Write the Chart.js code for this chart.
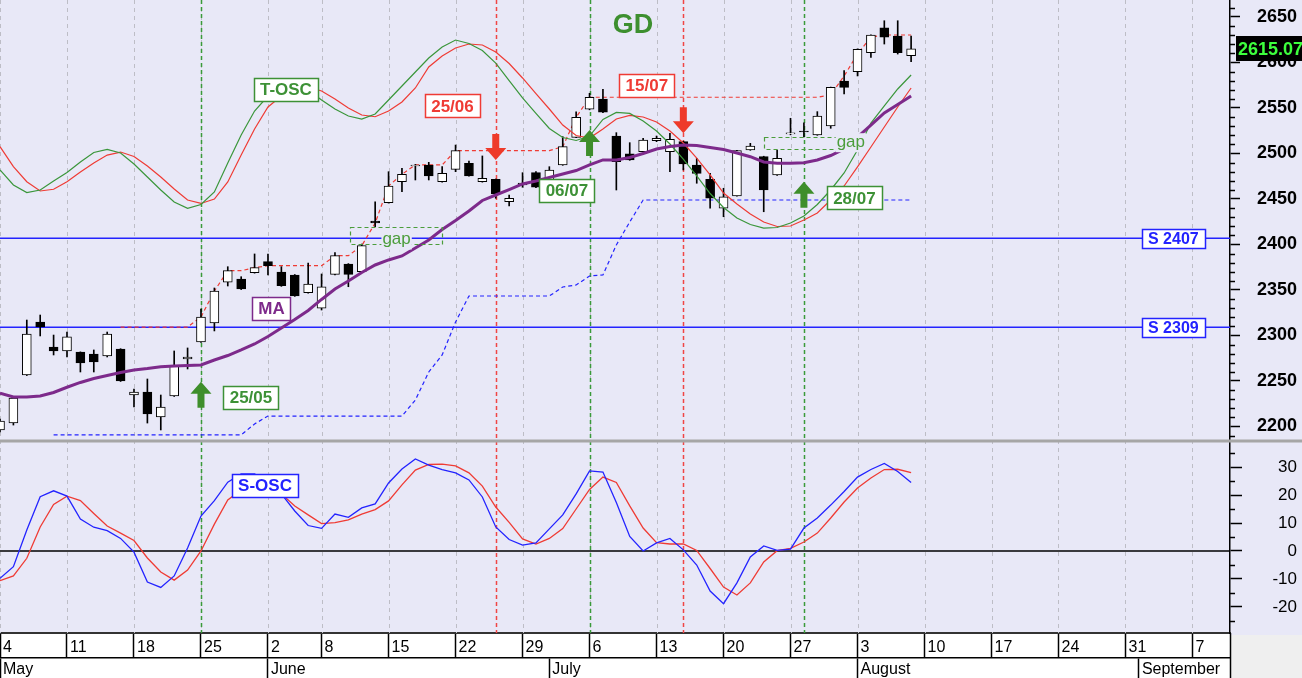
<!DOCTYPE html>
<html><head><meta charset="utf-8">
<script src="https://cdn.jsdelivr.net/npm/chart.js@4.4.1/dist/chart.umd.min.js"></script>
<style>html,body{margin:0;padding:0;background:#e8e8f7;}canvas{display:block;}</style>
</head><body><canvas id="c" width="1302" height="678"></canvas>
<script>
// ---------- DATA (trading-day index 0 = 4 May) ----------
const opens  = [2196.2,2203.8,2256.6,2314.8,2287.4,2283.0,2281.9,2279.7,2277.5,2285.2,
                2234.6,2237.9,2210.4,2233.5,2274.2,2292.9,2313.7,2358.5,2362.1,2369.0,
                2381.1,2369.8,2366.5,2347.0,2329.9,2367.2,2378.6,2370.1,2425.8,2446.0,
                2469.0,2486.3,2487.4,2469.0,2482.6,2489.2,2469.0,2471.6,2447.0,2465.4,
                2478.9,2470.9,2487.4,2517.8,2548.6,2559.9,2519.2,2499.5,2502.0,2514.1,
                2502.0,2513.0,2487.4,2471.6,2439.8,2453.3,2503.8,2496.5,2476.4,2521.5,
                2524.7,2520.3,2530.2,2579.7,2589.9,2610.8,2638.2,2629.1,2607.5];
const highs  = [2208.2,2232.4,2317.0,2322.5,2300.5,2303.8,2282.0,2284.1,2303.8,2285.5,
                2241.2,2252.2,2234.6,2283.0,2286.3,2329.1,2352.2,2375.6,2364.6,2389.6,
                2389.6,2375.6,2367.0,2379.7,2367.6,2391.0,2379.0,2400.5,2447.0,2480.0,
                2483.7,2488.0,2490.3,2485.5,2509.3,2491.8,2497.3,2472.0,2454.4,2478.9,
                2480.0,2485.5,2518.5,2545.9,2566.2,2570.6,2522.9,2511.9,2516.7,2519.2,
                2522.2,2513.5,2494.7,2478.2,2461.8,2503.5,2511.2,2497.0,2503.8,2538.7,
                2533.8,2546.0,2573.0,2591.0,2615.0,2630.5,2645.9,2645.9,2629.1];
const lows   = [2194.0,2201.6,2256.0,2299.5,2278.6,2276.4,2259.9,2259.9,2276.4,2249.5,
                2221.4,2203.8,2196.2,2233.0,2263.2,2292.5,2305.0,2354.4,2350.5,2368.5,
                2366.5,2354.0,2343.0,2346.5,2328.0,2366.5,2353.6,2369.5,2419.6,2445.5,
                2458.0,2470.9,2470.9,2468.5,2480.0,2475.0,2468.5,2450.8,2442.3,2462.9,
                2462.5,2470.5,2487.0,2517.5,2548.0,2545.0,2459.9,2492.5,2501.5,2513.0,
                2480.0,2481.9,2467.3,2439.8,2430.5,2453.0,2503.5,2436.0,2476.0,2520.5,
                2518.1,2520.0,2527.7,2565.4,2585.2,2605.7,2620.3,2609.3,2600.9];
const closes = [2206.0,2231.3,2301.6,2309.3,2283.0,2298.4,2269.8,2270.9,2301.6,2250.0,
                2237.9,2213.7,2221.4,2266.5,2276.4,2320.3,2348.9,2371.2,2351.1,2374.5,
                2376.7,2354.7,2343.4,2356.6,2353.6,2387.7,2367.2,2398.7,2423.6,2464.3,
                2477.1,2487.4,2475.3,2478.2,2503.1,2475.3,2472.7,2455.5,2450.8,2467.6,
                2462.9,2481.9,2507.5,2539.8,2561.8,2545.3,2491.0,2492.9,2514.8,2516.7,
                2515.6,2488.5,2478.2,2450.8,2452.5,2503.1,2508.2,2459.9,2494.7,2522.0,
                2523.6,2541.2,2572.7,2572.7,2614.5,2630.2,2627.7,2610.8,2615.07];
const maValues = [2236.5,2232.4,2232.4,2233.5,2237.4,2243.1,2248.4,2252.8,2256.1,2259.4,
                2262.1,2263.7,2265.7,2266.5,2267.0,2267.6,2273.1,2278.0,2284.1,2290.7,
                2298.9,2308.2,2317.6,2327.5,2339.6,2351.1,2359.9,2369.2,2377.5,2383.0,
                2387.4,2396.2,2404.9,2416.5,2426.4,2436.8,2448.4,2454.4,2460.4,2466.5,
                2469.8,2473.6,2477.5,2481.3,2487.4,2492.9,2492.9,2495.6,2500.0,2504.9,
                2507.7,2509.3,2508.8,2506.6,2504.4,2500.5,2496.5,2490.7,2489.2,2489.2,
                2489.9,2492.9,2497.8,2504.9,2518.1,2531.3,2544.5,2553.8,2563.2];
const tOscFast = [2481.9,2465.4,2457.1,2459.9,2469.8,2479.1,2490.7,2501.1,2504.6,2500.5,
                2488.5,2474.2,2459.9,2446.7,2439.8,2444.0,2457.7,2489.6,2520.3,2546.7,
                2563.2,2572.0,2574.2,2569.8,2558.8,2548.9,2541.2,2537.9,2543.4,2558.8,
                2574.2,2589.6,2604.9,2617.0,2624.7,2620.9,2613.2,2599.4,2580.2,2561.0,
                2544.0,2527.5,2517.6,2514.3,2519.2,2537.4,2545.1,2544.0,2535.7,2524.7,
                2510.4,2493.9,2475.3,2456.0,2440.7,2429.1,2422.0,2418.1,2418.7,2423.6,
                2431.3,2444.0,2459.9,2478.6,2503.8,2533.5,2552.2,2570.9,2586.3];
const tOscSlow = [2507.5,2485.5,2469.0,2458.8,2460.7,2469.0,2479.7,2489.6,2498.3,2501.6,
                2496.7,2486.3,2474.2,2461.0,2448.9,2445.1,2450.0,2468.7,2498.3,2526.9,
                2551.1,2563.2,2572.0,2573.1,2568.7,2559.9,2550.0,2542.3,2540.4,2546.7,
                2556.6,2572.0,2595.1,2607.2,2615.9,2620.3,2619.2,2611.5,2598.9,2583.0,
                2565.9,2548.9,2531.3,2519.8,2517.0,2526.9,2537.9,2541.8,2540.1,2534.6,
                2524.7,2511.5,2495.0,2476.4,2456.6,2444.5,2433.5,2424.7,2419.8,2420.3,
                2426.9,2434.6,2448.9,2464.3,2485.2,2507.1,2529.1,2551.1,2572.0];
const resistance = [null,null,null,null,null,null,null,null,null,2309.3,
                2309.3,2309.3,2309.3,2309.3,2309.3,2320.3,2348.9,2371.2,2371.2,2374.5,
                2376.7,2376.7,2376.7,2376.7,2376.7,2387.7,2387.7,2398.7,2423.6,2464.3,
                2477.1,2487.4,2487.4,2487.4,2503.1,2503.1,2503.1,2503.1,2503.1,2503.1,
                2503.1,2503.1,2507.5,2539.8,2561.8,2561.8,2561.8,2561.8,2561.8,2561.8,
                2561.8,2561.8,2561.8,2561.8,2561.8,2561.8,2561.8,2561.8,2561.8,2561.8,
                2561.8,2561.8,2564.3,2585.2,2609.3,2628.0,2630.2,2630.2,2630.2];
const trailSupport = [null,null,null,null,2190.7,2190.7,2190.7,2190.7,2190.7,2190.7,
                2190.7,2190.7,2190.7,2190.7,2190.7,2190.7,2190.7,2190.7,2190.7,2202.8,
                2211.5,2211.5,2211.5,2211.5,2211.5,2211.5,2211.5,2211.5,2211.5,2211.5,
                2211.5,2229.1,2259.9,2278.6,2314.8,2343.4,2343.4,2343.4,2343.4,2343.4,
                2343.4,2343.4,2353.3,2355.5,2365.4,2366.5,2399.5,2424.7,2448.9,2448.9,
                2448.9,2448.9,2448.9,2448.9,2448.9,2448.9,2448.9,2448.9,2448.9,2448.9,
                2448.9,2448.9,2448.9,2448.9,2448.9,2448.9,2448.9,2448.9,2448.9];
const sOscFast = [-9.75,-5.6,7.5,19.4,21.5,19.6,11.4,8.5,7.25,4.5,
                -0.4,-11.1,-13.0,-8.9,1.1,12.5,18.0,24.6,27.5,27.5,
                24.6,20.4,14.3,9.1,8.1,13.2,12.0,15.4,16.8,24.3,
                29.3,32.9,30.7,29.1,27.9,25.4,19.3,8.6,4.1,2.1,
                2.9,7.9,12.9,20.4,28.6,28.2,17.3,5.2,0.0,2.9,
                4.5,0.4,-5.0,-14.3,-18.8,-11.4,-2.1,1.8,0.2,0.7,
                8.2,11.8,16.4,21.25,26.4,29.1,31.25,28.4,24.5];
const sOscSlow = [-10.6,-8.9,-2.6,8.6,16.6,19.6,18.0,13.4,8.9,6.4,
                3.75,-2.5,-7.5,-10.4,-6.8,0.0,9.6,18.2,21.8,22.5,
                21.8,20.4,16.1,12.9,9.8,10.1,11.1,13.2,14.8,17.9,
                23.6,28.9,30.9,31.0,30.4,27.9,23.2,15.7,10.2,4.3,
                2.5,4.5,8.0,15.0,22.0,26.4,24.5,16.1,8.2,3.0,
                2.5,2.5,0.2,-6.25,-12.9,-15.7,-11.4,-3.9,0.1,0.96,
                3.2,6.4,11.8,17.5,22.5,26.1,29.1,29.2,28.0];
const supportLevels = [2407, 2309];
const supportLabels = ['S 2407', 'S 2309'];
const buyDays = [15, 44, 60];
const buyLabels = ['25/05', '06/07', '28/07'];
const buyArrowTips = [2249.2, 2525.8, 2469.0];
const sellDays = [37, 51];
const sellLabels = ['25/06', '15/07'];
const sellArrowTips = [2492.9, 2522.2];
const gapFrom = [26.1, 57.0];
const gapTo = [33.0, 62.5];
const gapLow = [2400.5, 2505.7];
const gapHigh = [2419.6, 2518.5];
const weekTicks = [0,5,10,15,20,24,29,34,39,44,49,54,59,64,69,74,79,84,89];
const weekLabels = ['4','11','18','25','2','8','15','22','29','6','13','20','27','3','10','17','24','31','7'];
const monthTicks = [0,20,41,64,85];
const monthLabels = ['May','June','July','August','September'];
const priceTicks = [2200,2250,2300,2350,2400,2450,2500,2550,2600,2650];
const oscTicks = [-20,-10,0,10,20,30];
const lastPrice = closes[closes.length - 1];

// ---------- annotation layout (data-space anchors) ----------
const GREEN = '#3d9136', RED = '#ef3b34', BLUE = '#2323ff', PURPLE = '#7d2a8b';
const boxLabels = [
  {text:'T-OSC', x:21.34, y:2570.3, c:GREEN, axis:'y'},
  {text:sellLabels[0], x:33.77, y:2552.2, c:RED, axis:'y'},
  {text:sellLabels[1], x:48.28, y:2574.7, c:RED, axis:'y'},
  {text:buyLabels[1], x:42.31, y:2459.3, c:GREEN, axis:'y'},
  {text:buyLabels[0], x:18.73, y:2231.9, c:GREEN, axis:'y'},
  {text:buyLabels[2], x:63.77, y:2451.1, c:GREEN, axis:'y'},
  {text:'MA', x:20.26, y:2329.5, c:PURPLE, axis:'y'},
  {text:'S-OSC', x:19.78, y:23.4, c:BLUE, axis:'y2'}
];
const gapTextPos = [{x:29.6, y:2405.5}, {x:63.5, y:2512.4}];

const FONT = "'Liberation Sans', Arial, sans-serif";
Chart.defaults.font.family = FONT;

const idx = opens.map((_, i) => i);
const pts = arr => arr.map((v, i) => ({x: i, y: v}));
const XMAX = 91.8;

function lineDs(data, color, width, axis, order, dash) {
  return {type:'line', data, borderColor:color, borderWidth:width, pointRadius:0,
          tension:0, yAxisID:axis, xAxisID:'x', order, borderDash: dash || [], spanGaps:false, fill:false};
}

const datasets = [];
supportLevels.forEach(v => datasets.push(lineDs([{x:0,y:v},{x:XMAX,y:v}], BLUE, 1.5, 'y', 40)));
datasets.push(lineDs([{x:0,y:0},{x:XMAX,y:0}], '#000', 1.5, 'y2', 40));
datasets.push(lineDs(pts(resistance), RED, 1.2, 'y', 30, [4,3]));
datasets.push(lineDs(pts(trailSupport), BLUE, 1.2, 'y', 30, [4,3]));
datasets.push({type:'bar', xAxisID:'x', yAxisID:'y', order:21, grouped:false, barThickness:1,
  data: idx.map(i => ({x:i, y:[lows[i], highs[i]]})), backgroundColor:'#000', borderWidth:0});
datasets.push({type:'bar', xAxisID:'x', yAxisID:'y', order:20, grouped:false, barThickness:9,
  minBarLength:1, borderSkipped:false, borderWidth:1, borderColor:'#000',
  data: idx.map(i => ({x:i, y:[opens[i], closes[i]]})),
  backgroundColor: idx.map(i => closes[i] >= opens[i] ? '#ffffff' : '#000000')});
datasets.push(lineDs(pts(tOscSlow), RED, 1.2, 'y', 10));
datasets.push(lineDs(pts(tOscFast), '#3a963a', 1.2, 'y', 9));
datasets.push(lineDs(pts(maValues), PURPLE, 3, 'y', 5));
datasets.push(lineDs(pts(sOscSlow), RED, 1.3, 'y2', 8));
datasets.push(lineDs(pts(sOscFast), BLUE, 1.3, 'y2', 7));

function drawBox(ctx, text, cx, cy, color, font, h, pad) {
  ctx.font = font;
  const w = Math.round(ctx.measureText(text).width + pad * 2);
  const x0 = Math.round(cx - w / 2) + 0.5, y0 = Math.round(cy - h / 2) + 0.5;
  ctx.fillStyle = '#fff'; ctx.fillRect(x0, y0, w, h);
  ctx.strokeStyle = color; ctx.lineWidth = 1.5; ctx.setLineDash([]); ctx.strokeRect(x0, y0, w, h);
  ctx.fillStyle = color; ctx.textAlign = 'center'; ctx.textBaseline = 'middle';
  ctx.fillText(text, cx, cy + 1);
}
function drawArrow(ctx, x, yTip, dir, color) {
  const L = 26, hh = 12, hw = 10.5, sw = 3.5, s = dir === 'up' ? 1 : -1;
  ctx.fillStyle = color;
  ctx.beginPath();
  ctx.moveTo(x, yTip);
  ctx.lineTo(x + hw, yTip + s * hh);
  ctx.lineTo(x + sw, yTip + s * hh);
  ctx.lineTo(x + sw, yTip + s * L);
  ctx.lineTo(x - sw, yTip + s * L);
  ctx.lineTo(x - sw, yTip + s * hh);
  ctx.lineTo(x - hw, yTip + s * hh);
  ctx.closePath(); ctx.fill();
}
const noPad = s => { s.paddingTop = 0; s.paddingBottom = 0; s.paddingLeft = 0; s.paddingRight = 0; };

const annot = {
  id: 'annot',
  beforeDraw(chart) {
    const {ctx, width, height, chartArea: ca} = chart;
    ctx.save();
    ctx.fillStyle = '#e8e8f7'; ctx.fillRect(0, 0, width, height);
    ctx.fillStyle = '#ffffff'; ctx.fillRect(0, ca.bottom, ca.right, height - ca.bottom);
    ctx.restore();
  },
  beforeDatasetsDraw(chart) {
    const {ctx, chartArea: ca, scales} = chart;
    const xs = scales.x;
    ctx.save();
    ctx.lineWidth = 1; ctx.strokeStyle = '#bdbdc6'; ctx.setLineDash([4,4]);
    weekTicks.forEach(v => {
      const x = Math.round(xs.getPixelForValue(v)) + 0.5;
      ctx.beginPath(); ctx.moveTo(x, ca.top); ctx.lineTo(x, ca.bottom); ctx.stroke();
    });
    ctx.lineWidth = 1.5; ctx.setLineDash([4,3]);
    buyDays.forEach(d => {
      const x = Math.round(xs.getPixelForValue(d)) + 0.5;
      ctx.strokeStyle = '#3a9a3a';
      ctx.beginPath(); ctx.moveTo(x, ca.top); ctx.lineTo(x, ca.bottom); ctx.stroke();
    });
    sellDays.forEach(d => {
      const x = Math.round(xs.getPixelForValue(d)) + 0.5;
      ctx.strokeStyle = '#f04545';
      ctx.beginPath(); ctx.moveTo(x, ca.top); ctx.lineTo(x, ca.bottom); ctx.stroke();
    });
    ctx.setLineDash([]);
    const yb = scales.y.bottom;
    ctx.fillStyle = '#a6a6a6'; ctx.fillRect(0, yb - 1.5, chart.width, 3);
    ctx.restore();
  },
  afterDatasetsDraw(chart) {
    const {ctx, scales} = chart;
    const xs = scales.x, ys = scales.y;
    ctx.save();
    ctx.strokeStyle = '#4b9d3b'; ctx.lineWidth = 1.2; ctx.setLineDash([4,3]);
    gapFrom.forEach((g, k) => {
      const x0 = xs.getPixelForValue(gapFrom[k]), x1 = xs.getPixelForValue(gapTo[k]);
      const y0 = ys.getPixelForValue(gapHigh[k]), y1 = ys.getPixelForValue(gapLow[k]);
      ctx.strokeRect(Math.round(x0) + 0.5, Math.round(y0) + 0.5, Math.round(x1 - x0), Math.round(y1 - y0));
    });
    ctx.setLineDash([]);
    ctx.font = '17px ' + FONT; ctx.textAlign = 'center'; ctx.textBaseline = 'middle';
    gapTextPos.forEach(p => {
      const cx = xs.getPixelForValue(p.x), cy = ys.getPixelForValue(p.y);
      const w = ctx.measureText('gap').width + 2;
      ctx.fillStyle = '#e8e8f7'; ctx.fillRect(cx - w / 2, cy - 9, w, 19);
      ctx.fillStyle = '#4b9d3b'; ctx.fillText('gap', cx, cy);
    });
    buyDays.forEach((d, k) => drawArrow(ctx, xs.getPixelForValue(d), ys.getPixelForValue(buyArrowTips[k]), 'up', '#3e8e2b'));
    sellDays.forEach((d, k) => drawArrow(ctx, xs.getPixelForValue(d), ys.getPixelForValue(sellArrowTips[k]), 'down', '#ee3a2a'));
    boxLabels.forEach(b => {
      const s = scales[b.axis];
      drawBox(ctx, b.text, xs.getPixelForValue(b.x), s.getPixelForValue(b.y), b.c, 'bold 17px ' + FONT, 23, 6);
    });
    supportLevels.forEach((v, k) => {
      drawBox(ctx, supportLabels[k], xs.getPixelForValue(87.57), ys.getPixelForValue(v), BLUE, 'bold 16px ' + FONT, 19, 6);
    });
    ctx.font = 'bold 27px ' + FONT; ctx.fillStyle = '#3d8f2f'; ctx.textAlign = 'center'; ctx.textBaseline = 'middle';
    ctx.fillText('GD', xs.getPixelForValue(47.24), ys.getPixelForValue(2640.2));
    ctx.restore();
  },
  afterDraw(chart) {
    const {ctx, width, height, chartArea: ca, scales} = chart;
    ctx.save();
    ctx.strokeStyle = '#000'; ctx.lineWidth = 1.5;
    const xr = Math.round(ca.right);
    for (let v = 2190; v <= 2660; v += 10) {
      if (v % 50 === 0) continue;
      const y = Math.round(scales.y.getPixelForValue(v)) + 0.5;
      ctx.beginPath(); ctx.moveTo(xr, y); ctx.lineTo(xr + 5, y); ctx.stroke();
    }
    for (let v = -25; v <= 35; v += 5) {
      if (v % 10 === 0) continue;
      const y = Math.round(scales.y2.getPixelForValue(v)) + 0.5;
      ctx.beginPath(); ctx.moveTo(xr, y); ctx.lineTo(xr + 5, y); ctx.stroke();
    }
    ctx.fillStyle = '#efefef'; ctx.fillRect(xr + 1, ca.bottom + 2, width - xr, height - ca.bottom);
    ctx.strokeStyle = '#000'; ctx.lineWidth = 1.5;
    ctx.beginPath(); ctx.moveTo(xr + 0.5, ca.bottom); ctx.lineTo(xr + 0.5, height); ctx.stroke();
    const yp = scales.y.getPixelForValue(lastPrice);
    ctx.fillStyle = '#000'; ctx.fillRect(xr + 6, Math.round(yp) - 13, width - xr - 6, 25);
    ctx.fillStyle = '#3dff3d'; ctx.font = 'bold 18px ' + FONT; ctx.textAlign = 'left'; ctx.textBaseline = 'middle';
    ctx.fillText(lastPrice.toFixed(2), xr + 8, yp + 1);
    ctx.restore();
  }
};

new Chart(document.getElementById('c'), {
  type: 'line',
  data: { datasets },
  options: {
    responsive: false, animation: false, devicePixelRatio: 1,
    layout: { padding: {left:0, top:0, bottom:0, right:5}, autoPadding: false },
    events: [],
    plugins: { legend: {display:false}, tooltip: {enabled:false} },
    scales: {
      x: {
        type:'linear', position:'bottom', min:0, max:XMAX, weight:0, offset:false,
        afterBuildTicks: s => { s.ticks = weekTicks.map(v => ({value:v})); },
        afterFit: s => { s.height = 25; noPad(s); },
        grid: { display:true, offset:false, drawOnChartArea:false, drawTicks:true, tickLength:25, tickColor:'#000', tickWidth:1.5 },
        border: { display:true, color:'#333', width:2 },
        ticks: { autoSkip:false, maxRotation:0, minRotation:0, align:'start', labelOffset:3, padding:-20,
                 color:'#000', font:{size:16}, callback:(v, i) => weekLabels[i] }
      },
      xm: {
        type:'linear', position:'bottom', min:0, max:XMAX, weight:1, offset:false,
        afterBuildTicks: s => { s.ticks = monthTicks.map(v => ({value:v})); },
        afterFit: s => { s.height = 20; noPad(s); },
        grid: { display:true, offset:false, drawOnChartArea:false, drawTicks:true, tickLength:20, tickColor:'#000', tickWidth:1.5 },
        border: { display:true, color:'#000', width:1.5 },
        ticks: { autoSkip:false, maxRotation:0, minRotation:0, align:'start', labelOffset:3, padding:-18,
                 color:'#000', font:{size:16}, callback:(v, i) => monthLabels[i] }
      },
      y: {
        type:'linear', position:'right', stack:'v', stackWeight:441, min:2184.06, max:2668.68,
        afterBuildTicks: s => { s.ticks = priceTicks.map(v => ({value:v})); },
        afterFit: s => { s.width = 67; noPad(s); },
        grid: { drawOnChartArea:false, drawTicks:true, tickLength:10, tickColor:'#000', tickWidth:1.5 },
        border: { display:true, color:'#000', width:1.5 },
        ticks: { autoSkip:false, crossAlign:'far', padding:12, color:'#000', font:{size:18, weight:'bold'},
                 callback: v => String(v) }
      },
      y2: {
        type:'linear', position:'right', stack:'v', stackWeight:192, min:-29.29, max:39.29,
        afterBuildTicks: s => { s.ticks = oscTicks.map(v => ({value:v})); },
        afterFit: s => { s.width = 67; noPad(s); },
        grid: { drawOnChartArea:false, drawTicks:true, tickLength:12, tickColor:'#000', tickWidth:1.5 },
        border: { display:true, color:'#000', width:1.5 },
        ticks: { autoSkip:false, crossAlign:'far', padding:26, color:'#000', font:{size:17},
                 callback: v => String(v) }
      }
    }
  },
  plugins: [annot]
});
</script></body></html>
